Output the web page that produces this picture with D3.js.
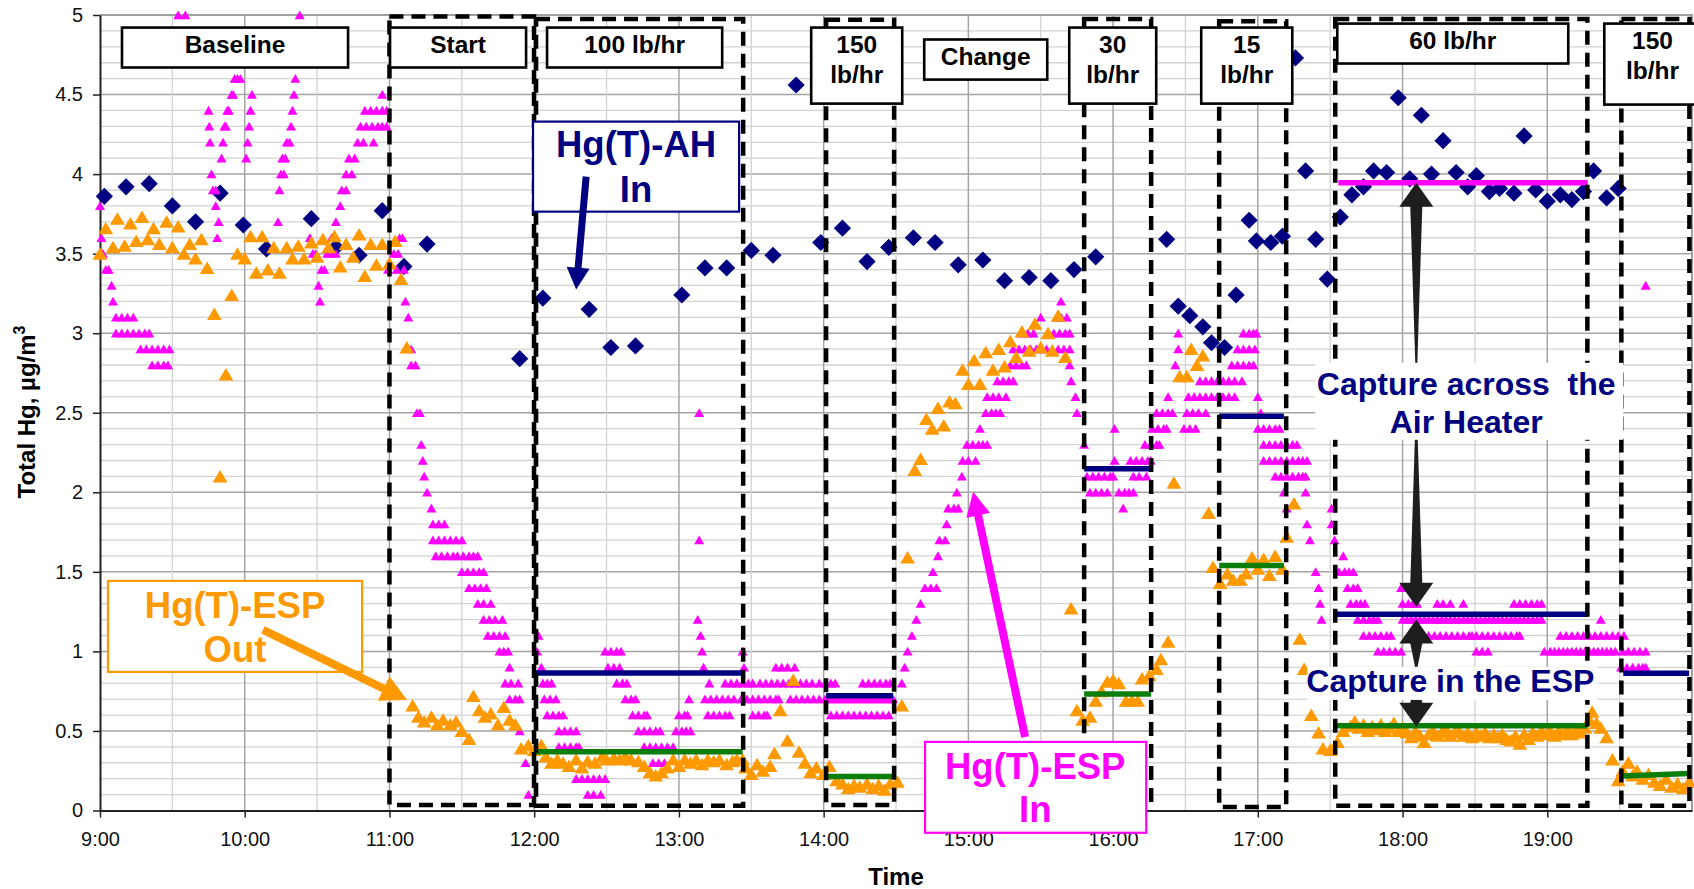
<!DOCTYPE html>
<html>
<head>
<meta charset="utf-8">
<script src="https://cdn.jsdelivr.net/npm/d3@7"></script>
<style>
  html, body { margin: 0; padding: 0; background: #ffffff; }
  svg { display: block; font-family: "Liberation Sans", Arial, Helvetica, sans-serif; }
</style>
</head>
<body>
<svg id="chart" width="1694" height="889"></svg>
<script>
// ---------------------------------------------------------------------------
// Data: time in decimal hours of the day, concentration in µg/m³
// ---------------------------------------------------------------------------

// Hg(T) at the air-heater inlet
const ahIn = [
  [9.03,3.86],[9.18,3.92],[9.34,3.94],[9.50,3.80],[9.66,3.70],[9.83,3.88],[9.99,3.68],[10.15,3.53],
  [10.46,3.72],[10.63,3.54],[10.79,3.49],[10.95,3.77],[11.10,3.42],[11.26,3.56],[11.90,2.84],[12.06,3.22],
  [12.38,3.15],[12.53,2.91],[12.70,2.92],[13.02,3.24],[13.18,3.41],[13.33,3.41],[13.50,3.52],[13.65,3.49],
  [13.81,4.56],[13.98,3.57],[14.13,3.66],[14.30,3.45],[14.45,3.54],[14.62,3.60],[14.77,3.57],[14.93,3.43],
  [15.10,3.46],[15.25,3.33],[15.42,3.35],[15.57,3.33],[15.73,3.40],[15.88,3.48],[16.37,3.59],[16.45,3.17],
  [16.53,3.11],[16.62,3.04],[16.68,2.94],[16.77,2.91],[16.85,3.24],[16.94,3.71],[16.99,3.58],[17.09,3.57],
  [17.17,3.61],[17.26,4.73],[17.33,4.02],[17.40,3.59],[17.48,3.34],[17.57,3.73],[17.65,3.87],[17.73,3.92],
  [17.80,4.02],[17.89,4.01],[17.97,4.48],[18.05,3.97],[18.13,4.37],[18.20,4.00],[18.28,4.21],[18.37,4.01],
  [18.45,3.92],[18.51,3.99],[18.60,3.89],[18.67,3.91],[18.77,3.88],[18.84,4.24],[18.92,3.90],[19.00,3.83],
  [19.09,3.87],[19.17,3.84],[19.25,3.89],[19.32,4.02],[19.41,3.85],[19.49,3.91]
];

// Hg(T) at the ESP inlet (analyser resolution 0.1 µg/m³)
const espIn = [
  [9.00,3.8],[9.01,3.6],[9.02,3.5],[9.04,3.4],[9.06,3.4],[9.08,3.3],[9.09,3.2],
  [9.11,3.1],[9.15,3.1],[9.19,3.1],[9.23,3.1],
  [9.11,3.0],[9.15,3.0],[9.19,3.0],[9.23,3.0],[9.27,3.0],[9.31,3.0],[9.34,3.0],
  [9.28,2.9],[9.32,2.9],[9.36,2.9],[9.40,2.9],[9.44,2.9],[9.48,2.9],
  [9.36,2.8],[9.40,2.8],[9.44,2.8],[9.47,2.8],
  [9.54,5.0],[9.59,5.0],
  [9.75,4.4],[9.755,4.3],[9.76,4.2],[9.77,4.0],[9.78,3.9],[9.80,3.9],[9.80,3.8],[9.81,3.6],[9.82,3.7],
  [9.84,4.1],[9.85,4.2],[9.86,4.3],[9.87,4.3],[9.88,4.4],[9.89,4.4],[9.91,4.5],[9.92,4.5],
  [9.93,4.6],[9.95,4.6],[9.97,4.6],
  [10.01,4.1],[10.02,4.2],[10.03,4.3],[10.04,4.4],[10.05,4.5],
  [10.23,3.7],[10.24,3.9],[10.25,4.0],[10.27,4.0],[10.26,4.1],[10.28,4.1],[10.29,4.2],[10.31,4.2],
  [10.32,4.3],[10.33,4.4],[10.34,4.5],[10.35,4.6],[10.38,5.0],
  [10.45,3.6],[10.47,3.5],[10.49,3.5],[10.51,3.3],[10.52,3.2],[10.53,3.4],[10.55,3.4],[10.57,3.5],
  [10.59,3.5],[10.60,3.6],[10.62,3.6],[10.63,3.5],
  [10.63,3.7],[10.66,3.8],[10.67,3.9],[10.70,3.9],[10.70,4.0],[10.74,4.0],[10.72,4.1],[10.76,4.1],
  [10.78,4.2],[10.82,4.2],[10.89,4.2],
  [10.80,4.3],[10.84,4.3],[10.88,4.3],[10.92,4.3],[10.95,4.3],[10.98,4.3],
  [10.83,4.4],[10.87,4.4],[10.91,4.4],[10.95,4.4],[10.98,4.4],[10.95,4.5],
  [10.99,3.4],[11.03,3.5],[11.05,3.4],[11.06,3.5],[11.07,3.6],[11.09,3.6],[11.10,3.4],[11.11,3.2],
  [11.13,3.1],[11.15,2.9],[11.15,2.8],[11.18,2.8],[11.19,2.5],[11.21,2.5],
  [11.22,2.3],[11.23,2.2],[11.24,2.1],[11.26,2.0],[11.29,1.9],
  [11.30,1.8],[11.34,1.8],[11.38,1.8],
  [11.30,1.7],[11.34,1.7],[11.38,1.7],[11.42,1.7],[11.46,1.7],[11.50,1.7],
  [11.32,1.6],[11.36,1.6],[11.40,1.6],[11.44,1.6],[11.47,1.6],[11.51,1.6],[11.55,1.6],[11.58,1.6],[11.61,1.6],
  [11.50,1.5],[11.54,1.5],[11.58,1.5],[11.62,1.5],[11.65,1.5],
  [11.55,1.4],[11.59,1.4],[11.63,1.4],[11.67,1.4],
  [11.61,1.3],[11.65,1.3],[11.70,1.3],
  [11.65,1.2],[11.69,1.2],[11.73,1.2],[11.78,1.2],
  [11.68,1.1],[11.72,1.1],[11.76,1.1],[11.80,1.1],
  [11.76,1.0],[11.79,1.0],[11.82,1.0],[11.83,0.9],
  [11.80,0.8],[11.84,0.8],[11.89,0.8],[11.83,0.7],[11.87,0.7],[11.90,0.7],
  [11.90,0.5],[11.94,0.3],[11.96,0.1],
  [12.02,1.0],[12.03,1.1],[12.05,0.9],
  [12.06,0.8],[12.09,0.8],[12.12,0.8],[12.07,0.7],[12.11,0.7],[12.15,0.7],
  [12.09,0.6],[12.13,0.6],[12.17,0.6],[12.20,0.6],
  [12.17,0.5],[12.21,0.5],[12.25,0.5],[12.29,0.5],
  [12.17,0.4],[12.21,0.4],[12.25,0.4],[12.29,0.4],[12.31,0.4],
  [12.29,0.2],[12.33,0.2],[12.37,0.2],[12.41,0.2],[12.45,0.2],[12.49,0.2],
  [12.37,0.1],[12.41,0.1],[12.46,0.1],
  [12.49,1.0],[12.53,1.0],[12.57,1.0],[12.60,1.0],[12.51,0.9],[12.55,0.9],[12.59,0.9],
  [12.57,0.8],[12.61,0.8],[12.64,0.8],[12.63,0.7],[12.67,0.7],[12.70,0.7],
  [12.68,0.6],[12.72,0.6],[12.76,0.6],[12.78,0.6],
  [12.72,0.5],[12.76,0.5],[12.80,0.5],[12.84,0.5],[12.87,0.5],
  [12.76,0.4],[12.80,0.4],[12.84,0.4],[12.88,0.4],[12.92,0.4],[12.96,0.4],
  [12.82,0.3],[12.86,0.3],[12.90,0.3],
  [12.98,0.5],[13.02,0.5],[13.05,0.5],[13.08,0.5],[13.00,0.6],[13.04,0.6],[13.06,0.6],[13.07,0.7],
  [13.14,2.5],[13.14,1.7],
  [13.13,1.2],[13.15,1.1],[13.16,1.0],[13.17,0.9],[13.21,0.8],
  [13.18,0.7],[13.22,0.7],[13.26,0.7],[13.30,0.7],[13.34,0.7],[13.38,0.7],[13.43,0.7],
  [13.20,0.6],[13.24,0.6],[13.28,0.6],[13.32,0.6],[13.35,0.6],
  [13.32,0.8],[13.36,0.8],[13.40,0.8],[13.44,0.8],[13.48,0.8],[13.51,0.8],
  [13.44,1.0],[13.45,0.9],
  [13.47,0.7],[13.51,0.7],[13.55,0.7],[13.59,0.7],[13.63,0.7],[13.67,0.7],[13.69,0.7],
  [13.51,0.6],[13.55,0.6],[13.59,0.6],[13.61,0.6],
  [13.56,0.8],[13.60,0.8],[13.64,0.8],[13.68,0.8],[13.72,0.8],[13.76,0.8],[13.80,0.8],[13.84,0.8],
  [13.88,0.8],[13.92,0.8],[13.97,0.8],
  [13.67,0.9],[13.71,0.9],[13.75,0.9],[13.80,0.9],
  [13.77,0.7],[13.81,0.7],[13.85,0.7],[13.89,0.7],[13.93,0.7],[13.97,0.7],
  [14.01,0.8],[14.05,0.8],[14.08,0.8],
  [14.05,0.6],[14.09,0.6],[14.13,0.6],[14.17,0.6],[14.21,0.6],[14.25,0.6],[14.29,0.6],[14.33,0.6],
  [14.37,0.6],[14.41,0.6],[14.45,0.6],
  [14.01,0.7],[14.04,0.7],[14.07,0.7],[14.10,0.7],[14.13,0.7],[14.16,0.7],[14.19,0.7],[14.22,0.7],
  [14.25,0.7],[14.28,0.7],[14.31,0.7],[14.34,0.7],[14.37,0.7],[14.40,0.7],[14.43,0.7],[14.46,0.7],[14.48,0.7],
  [14.27,0.8],[14.31,0.8],[14.35,0.8],[14.39,0.8],[14.43,0.8],[14.46,0.8],
  [14.54,0.8],[14.56,0.9],[14.58,1.0],[14.61,1.1],[14.64,1.2],[14.67,1.3],
  [14.70,1.4],[14.74,1.4],[14.78,1.4],[14.755,1.5],[14.79,1.6],[14.80,1.7],[14.84,1.7],[14.85,1.8],
  [14.86,1.9],[14.90,1.9],[14.93,1.9],[14.92,2.0],[14.955,2.1],
  [14.96,2.2],[15.00,2.2],[15.05,2.2],
  [14.99,2.3],[15.03,2.3],[15.07,2.3],[15.10,2.3],[15.13,2.3],[15.08,2.4],
  [15.12,2.5],[15.16,2.5],[15.19,2.5],[15.22,2.5],
  [15.13,2.6],[15.17,2.6],[15.21,2.6],[15.26,2.6],
  [15.20,2.7],[15.24,2.7],[15.28,2.7],[15.31,2.7],
  [15.29,2.8],[15.33,2.8],[15.37,2.8],[15.40,2.8],
  [15.31,2.9],[15.35,2.9],[15.39,2.9],[15.43,2.9],[15.47,2.9],[15.50,2.9],
  [15.37,3.0],[15.41,3.0],[15.45,3.0],[15.50,3.1],
  [15.59,3.0],[15.63,3.0],[15.67,3.0],[15.70,3.0],[15.61,3.1],[15.64,3.1],[15.68,3.1],[15.64,3.2],
  [15.54,2.9],[15.58,2.9],[15.62,2.9],[15.66,2.9],[15.70,2.9],
  [15.70,2.8],[15.71,2.7],[15.74,2.6],[15.75,2.5],
  [15.80,2.3],
  [15.82,2.1],[15.86,2.1],[15.90,2.1],[15.94,2.1],[15.98,2.1],[16.00,2.1],
  [15.84,2.0],[15.88,2.0],[15.92,2.0],[15.96,2.0],
  [16.01,2.4],[16.01,2.2],[16.04,2.0],[16.08,2.0],[16.11,2.0],[16.14,2.0],[16.07,1.9],
  [16.12,2.2],[16.16,2.2],[16.20,2.2],[16.24,2.2],[16.26,2.2],
  [16.14,2.1],[16.18,2.1],[16.23,2.1],
  [16.22,2.3],[16.26,2.3],[16.30,2.3],[16.32,2.3],
  [16.27,2.4],[16.31,2.4],[16.35,2.4],[16.37,2.4],
  [16.30,2.5],[16.34,2.5],[16.38,2.5],[16.41,2.5],
  [16.38,2.6],[16.43,2.8],[16.45,2.9],[16.45,3.0],
  [16.49,2.4],[16.53,2.4],[16.57,2.4],
  [16.51,2.5],[16.55,2.5],[16.59,2.5],[16.64,2.5],
  [16.52,2.6],[16.56,2.6],[16.60,2.6],[16.64,2.6],[16.68,2.6],[16.72,2.6],[16.76,2.6],[16.80,2.6],[16.84,2.6],
  [16.60,2.7],[16.64,2.7],[16.68,2.7],[16.72,2.7],[16.76,2.7],[16.80,2.7],[16.84,2.7],[16.89,2.7],
  [16.82,2.8],[16.86,2.8],[16.90,2.8],[16.94,2.8],[16.97,2.8],
  [16.86,2.9],[16.90,2.9],[16.94,2.9],[16.98,2.9],
  [16.90,3.0],[16.94,3.0],[16.97,3.0],[16.99,3.0],
  [17.00,2.6],[17.02,2.5],
  [17.00,2.4],[17.04,2.4],[17.08,2.4],[17.12,2.4],[17.15,2.4],
  [17.04,2.3],[17.08,2.3],[17.12,2.3],[17.16,2.3],[17.20,2.3],[17.24,2.3],[17.27,2.3],
  [17.04,2.2],[17.08,2.2],[17.12,2.2],[17.16,2.2],[17.20,2.2],[17.24,2.2],[17.28,2.2],[17.31,2.2],[17.34,2.2],
  [17.12,2.1],[17.16,2.1],[17.20,2.1],[17.24,2.1],[17.28,2.1],[17.31,2.1],[17.33,2.1],
  [17.18,2.0],[17.33,2.0],[17.20,1.9],[17.51,1.9],[17.34,1.8],[17.51,1.8],[17.36,1.7],[17.53,1.7],[17.59,1.6],
  [17.40,1.5],[17.56,1.5],[17.60,1.5],[17.63,1.5],[17.66,1.5],
  [17.42,1.4],[17.62,1.4],[17.66,1.4],[17.69,1.4],
  [17.43,1.3],[17.64,1.3],[17.68,1.3],[17.71,1.3],[17.74,1.3],
  [17.44,1.2],[17.69,1.2],[17.73,1.2],[17.77,1.2],[17.80,1.2],[17.83,1.2],
  [17.73,1.1],[17.77,1.1],[17.81,1.1],[17.85,1.1],[17.89,1.1],[17.92,1.1],
  [17.83,1.0],[17.87,1.0],[17.91,1.0],[17.95,1.0],[17.99,1.0],
  [17.99,1.4],[18.00,1.3],[18.04,1.3],[18.07,1.3],[18.10,1.3],
  [18.00,1.2],[18.03,1.2],[18.06,1.2],[18.09,1.2],[18.12,1.2],[18.15,1.2],[18.18,1.2],[18.21,1.2],
  [18.24,1.2],[18.27,1.2],[18.30,1.2],[18.33,1.2],[18.36,1.2],[18.39,1.2],[18.42,1.2],[18.45,1.2],
  [18.48,1.2],[18.51,1.2],[18.54,1.2],[18.57,1.2],[18.60,1.2],[18.63,1.2],[18.66,1.2],[18.69,1.2],
  [18.72,1.2],[18.75,1.2],[18.78,1.2],[18.81,1.2],[18.84,1.2],[18.87,1.2],[18.90,1.2],[18.93,1.2],[18.96,1.2],
  [18.14,1.1],[18.18,1.1],[18.22,1.1],[18.26,1.1],[18.30,1.1],[18.34,1.1],[18.38,1.1],[18.42,1.1],[18.46,1.1],[18.48,1.1],
  [18.24,1.3],[18.28,1.3],[18.33,1.3],[18.42,1.3],
  [18.51,1.1],[18.55,1.1],[18.59,1.1],[18.63,1.1],[18.67,1.1],[18.71,1.1],[18.75,1.1],[18.79,1.1],[18.81,1.1],
  [18.51,1.0],[18.55,1.0],[18.59,1.0],
  [18.77,1.3],[18.81,1.3],[18.85,1.3],[18.89,1.3],[18.93,1.3],[18.96,1.3],
  [18.98,1.0],[19.02,1.0],[19.05,1.0],[19.08,1.0],[19.11,1.0],[19.14,1.0],[19.17,1.0],[19.20,1.0],
  [19.23,1.0],[19.26,1.0],[19.29,1.0],[19.32,1.0],[19.35,1.0],[19.38,1.0],[19.41,1.0],[19.44,1.0],[19.47,1.0],
  [19.09,1.1],[19.13,1.1],[19.17,1.1],[19.21,1.1],[19.25,1.1],[19.29,1.1],[19.33,1.1],[19.37,1.1],
  [19.41,1.1],[19.45,1.1],[19.49,1.1],[19.53,1.1],
  [19.37,1.2],
  [19.52,1.0],[19.56,1.0],[19.60,1.0],[19.64,1.0],[19.68,1.0],
  [19.51,0.9],[19.55,0.9],[19.59,0.9],[19.63,0.9],[19.66,0.9],[19.68,0.9],
  [19.68,3.3]
];

// Hg(T) at the ESP outlet
const espOut = [
  [9.00,3.50],[9.04,3.66],[9.09,3.54],[9.12,3.72],[9.17,3.55],[9.21,3.69],[9.25,3.58],[9.29,3.73],
  [9.33,3.59],[9.37,3.66],[9.41,3.56],[9.46,3.70],[9.50,3.54],[9.54,3.67],[9.58,3.50],[9.62,3.56],
  [9.66,3.47],[9.70,3.59],[9.74,3.41],[9.79,3.12],[9.83,2.10],[9.87,2.74],[9.91,3.24],[9.95,3.50],
  [10.00,3.47],[10.04,3.61],[10.08,3.38],[10.12,3.61],[10.16,3.40],[10.20,3.54],[10.24,3.38],[10.29,3.54],
  [10.33,3.47],[10.37,3.55],[10.41,3.47],[10.46,3.57],[10.50,3.48],[10.54,3.59],[10.58,3.54],[10.62,3.61],
  [10.66,3.42],[10.70,3.56],[10.75,3.48],[10.79,3.62],[10.83,3.36],[10.87,3.56],[10.91,3.43],[10.95,3.56],
  [11.00,3.44],[11.04,3.58],[11.08,3.34],[11.12,2.91],
  [11.16,0.66],[11.20,0.59],[11.24,0.56],[11.29,0.59],[11.33,0.54],[11.37,0.57],[11.42,0.54],[11.46,0.56],
  [11.50,0.50],[11.55,0.45],[11.58,0.72],[11.62,0.63],[11.66,0.59],[11.70,0.61],[11.75,0.54],[11.79,0.65],
  [11.83,0.57],[11.87,0.54],[11.91,0.39],[11.96,0.41],[12.00,0.38],[12.05,0.41],
  [12.08,0.34],[12.12,0.30],[12.16,0.32],[12.20,0.30],[12.24,0.28],[12.29,0.32],[12.33,0.27],[12.37,0.31],
  [12.42,0.30],[12.47,0.34],[12.50,0.32],[12.55,0.33],[12.59,0.32],[12.63,0.34],[12.67,0.32],[12.72,0.31],
  [12.76,0.28],[12.80,0.24],[12.84,0.22],[12.88,0.24],[12.92,0.27],[12.96,0.32],[13.00,0.28],[13.04,0.32],
  [13.08,0.30],[13.12,0.32],[13.16,0.29],[13.20,0.32],[13.24,0.31],[13.28,0.32],[13.33,0.29],[13.37,0.31],
  [13.40,0.32],[13.44,0.32],[13.46,0.27],[13.50,0.23],[13.54,0.29],[13.58,0.25],[13.63,0.28],[13.66,0.36],
  [13.70,0.63],[13.75,0.44],[13.79,0.82],[13.83,0.37],[13.87,0.30],[13.91,0.24],[13.95,0.27],[14.00,0.23],
  [14.04,0.28],[14.09,0.19],[14.13,0.17],[14.17,0.14],[14.21,0.16],[14.25,0.15],[14.30,0.17],[14.34,0.14],
  [14.38,0.16],[14.42,0.13],[14.46,0.17],[14.51,0.18],[14.54,0.66],
  [14.58,1.59],[14.63,2.14],[14.67,2.21],[14.71,2.46],[14.75,2.40],[14.79,2.53],[14.83,2.42],[14.87,2.57],
  [14.91,2.56],[14.96,2.77],[15.00,2.68],[15.04,2.83],[15.08,2.68],[15.12,2.88],[15.17,2.77],[15.21,2.90],
  [15.25,2.79],[15.29,2.95],[15.33,2.85],[15.37,3.01],[15.42,2.89],[15.46,3.06],[15.50,2.91],[15.55,3.00],
  [15.58,2.89],[15.62,3.11],[15.67,2.85],
  [15.71,1.27],[15.75,0.63],[15.79,0.57],[15.84,0.59],[15.88,0.69],[15.92,0.75],[15.96,0.81],[16.00,0.82],
  [16.04,0.80],[16.09,0.69],[16.13,0.69],[16.17,0.69],[16.20,0.83],[16.25,0.85],[16.30,0.89],[16.33,0.95],
  [16.38,1.06],[16.42,2.06],[16.46,2.73],[16.51,2.73],[16.54,2.90],[16.58,2.80],[16.62,2.86],[16.66,1.87],
  [16.69,1.53],[16.74,1.43],[16.79,1.49],[16.83,1.45],[16.88,1.45],[16.92,1.49],[16.96,1.59],[17.00,1.52],
  [17.04,1.58],[17.08,1.48],[17.12,1.60],[17.17,1.52],[17.20,1.72],[17.25,1.93],[17.29,1.08],[17.32,0.89],
  [17.37,0.60],[17.42,0.49],[17.45,0.39],[17.50,0.38],[17.55,0.43],[17.59,0.50],
  [17.64,0.53],[17.67,0.56],[17.70,0.52],[17.73,0.54],[17.76,0.50],[17.79,0.53],[17.82,0.51],[17.85,0.54],
  [17.88,0.50],[17.91,0.52],[17.94,0.55],[17.97,0.50],[18.00,0.52],[18.03,0.49],[18.06,0.46],[18.09,0.50],
  [18.12,0.47],[18.15,0.43],[18.18,0.48],[18.21,0.50],[18.24,0.47],[18.27,0.49],[18.30,0.51],[18.33,0.47],
  [18.36,0.49],[18.39,0.50],[18.42,0.47],[18.45,0.49],[18.48,0.46],[18.51,0.49],[18.54,0.47],[18.57,0.49],
  [18.60,0.46],[18.63,0.48],[18.66,0.46],[18.69,0.48],[18.72,0.45],[18.75,0.44],[18.78,0.47],[18.81,0.42],
  [18.84,0.48],[18.87,0.45],[18.90,0.49],[18.93,0.47],[18.96,0.50],[18.99,0.48],[19.02,0.50],[19.05,0.47],
  [19.08,0.50],[19.11,0.48],[19.14,0.51],[19.17,0.48],[19.20,0.51],[19.23,0.49],[19.26,0.52],[19.29,0.57],
  [19.31,0.62],[19.34,0.55],[19.37,0.52],[19.41,0.46],[19.45,0.32],[19.49,0.19],[19.52,0.25],[19.56,0.30],
  [19.59,0.22],[19.62,0.25],[19.66,0.20],[19.70,0.23],[19.74,0.18],[19.78,0.16],[19.82,0.20],[19.86,0.15],
  [19.90,0.17],[19.94,0.14],[19.98,0.18]
];

// Test phases (sorbent injection rates) and their time spans
const phaseNames  = ["Start", "100 lb/hr", "150 lb/hr", "30 lb/hr", "15 lb/hr", "60 lb/hr", "150 lb/hr"];
const phaseStart  = [11.00, 12.013, 14.017, 15.80, 16.733, 17.535, 19.512];
const phaseEnd    = [11.999, 13.444, 14.487, 16.263, 17.196, 19.277, 19.982];

// Period averages: [start, end, value at start, value at end]
const avgAhIn  = [[17.556, 19.28, 3.945, 3.945]];
const avgEspIn = [[12.00, 13.44, 0.865, 0.865], [14.017, 14.48, 0.722, 0.722], [15.80, 16.263, 2.148, 2.148],
                  [16.733, 17.18, 2.478, 2.478], [17.542, 19.277, 1.234, 1.234], [19.525, 19.98, 0.863, 0.863]];
const avgEspOut = [[12.00, 13.44, 0.37, 0.37], [14.017, 14.48, 0.213, 0.213], [15.80, 16.263, 0.733, 0.733],
                   [16.733, 17.18, 1.54, 1.54], [17.542, 19.277, 0.533, 0.533], [19.525, 19.98, 0.217, 0.232]];

// Axis ticks
const hourTicks = [9, 10, 11, 12, 13, 14, 15, 16, 17, 18, 19];
const valueTicks = [0, 0.5, 1, 1.5, 2, 2.5, 3, 3.5, 4, 4.5, 5];

// ---------------------------------------------------------------------------
// Layout
// ---------------------------------------------------------------------------
const svg = d3.select("#chart");
const plot = { left: 100, right: 1692, top: 15, bottom: 810.5 };
const x = d3.scaleLinear().domain([9, 20]).range([plot.left, plot.right]);
const y = d3.scaleLinear().domain([0, 5]).range([plot.bottom, plot.top]);

const C = {
  navy: "#000080", pink: "#ff00ff", orange: "#ff9900", green: "#0b7d0b",
  gridMinor: "#d3d3d3", gridMajor: "#a4a4a4", dark: "#1e1e1e"
};
const FONT = '"Liberation Sans", Arial, Helvetica, sans-serif';

// ---- gridlines ----
const grid = svg.append("g");
d3.range(1, 50).forEach(i => {
  grid.append("line")
    .attr("x1", plot.left).attr("x2", plot.right)
    .attr("y1", y(i / 10)).attr("y2", y(i / 10))
    .attr("stroke", i % 5 === 0 ? C.gridMajor : C.gridMinor)
    .attr("stroke-width", i % 5 === 0 ? 1.5 : 1.3);
});
d3.range(1, 22).forEach(i => {
  grid.append("line")
    .attr("y1", plot.top).attr("y2", plot.bottom)
    .attr("x1", x(9 + i / 2)).attr("x2", x(9 + i / 2))
    .attr("stroke", i % 2 === 0 ? C.gridMajor : C.gridMinor)
    .attr("stroke-width", i % 2 === 0 ? 1.5 : 1.3);
});
// plot frame (top and right)
grid.append("path")
  .attr("d", `M${plot.left},${plot.top}H${plot.right}V${plot.bottom}`)
  .attr("fill", "none").attr("stroke", "#a0a0a0").attr("stroke-width", 2);

// ---- axes ----
const xAxis = svg.append("g")
  .attr("transform", `translate(0,${plot.bottom})`)
  .call(d3.axisBottom(x).tickValues(hourTicks).tickFormat(h => `${h}:00`)
        .tickSize(7).tickSizeOuter(0).tickPadding(14));
const yAxis = svg.append("g")
  .attr("transform", `translate(${plot.left},0)`)
  .call(d3.axisLeft(y).tickValues(valueTicks).tickFormat(d3.format("~g"))
        .tickSize(7).tickSizeOuter(0).tickPadding(10));
[xAxis, yAxis].forEach(g => {
  g.selectAll("text").attr("font-size", 20).attr("font-family", FONT).attr("fill", "#111");
  g.selectAll("line").attr("stroke", "#222").attr("stroke-width", 1.5);
  g.select(".domain").attr("stroke", "#222").attr("stroke-width", 2);
});

// axis titles
const yTitle = svg.append("text")
  .attr("transform", "translate(35,412) rotate(-90)")
  .attr("text-anchor", "middle")
  .attr("font-family", FONT).attr("font-weight", "bold").attr("font-size", 24).attr("fill", "#000");
yTitle.append("tspan").text("Total Hg, µg/m");
yTitle.append("tspan").attr("font-size", 16).attr("dy", -10).text("3");

svg.append("text")
  .attr("x", (plot.left + plot.right) / 2).attr("y", 885)
  .attr("text-anchor", "middle")
  .attr("font-family", FONT).attr("font-weight", "bold").attr("font-size", 24)
  .text("Time");

// ---- data markers ----
const diamond = "M0,-8.6L8.6,0L0,8.6L-8.6,0Z";
const bigTri = "M0,-6.5L7.4,6L-7.4,6Z";
const smallTri = "M0,-4.6L5,4.2L-5,4.2Z";

svg.append("g").selectAll("path").data(ahIn).join("path")
  .attr("d", diamond).attr("fill", C.navy)
  .attr("transform", d => `translate(${x(d[0])},${y(d[1])})`);

svg.append("g").selectAll("path").data(espIn).join("path")
  .attr("d", smallTri).attr("fill", C.pink)
  .attr("transform", d => `translate(${x(d[0])},${y(d[1])})`);

svg.append("g").selectAll("path").data(espOut).join("path")
  .attr("d", bigTri).attr("fill", C.orange)
  .attr("transform", d => `translate(${x(d[0])},${y(d[1])})`);

// ---- period averages ----
function avgLines(rows, color) {
  svg.append("g").selectAll("line").data(rows).join("line")
    .attr("x1", d => x(d[0])).attr("x2", d => x(d[1]))
    .attr("y1", d => y(d[2])).attr("y2", d => y(d[3]))
    .attr("stroke", color).attr("stroke-width", 5.5);
}
avgLines(avgEspOut, C.green);
avgLines(avgEspIn, C.navy);
avgLines(avgAhIn, C.pink);

// ---- dashed phase frames ----
const frameTop = [4.99, 4.975, 4.97, 4.975, 4.96, 4.975, 4.975];
const frameBottom = [0.035, 0.03, 0.035, 0.04, 0.022, 0.03, 0.03];
svg.append("g").selectAll("rect").data(phaseNames).join("rect")
  .attr("x", (d, i) => x(phaseStart[i]))
  .attr("y", (d, i) => y(frameTop[i]))
  .attr("width", (d, i) => x(phaseEnd[i]) - x(phaseStart[i]))
  .attr("height", (d, i) => y(frameBottom[i]) - y(frameTop[i]))
  .attr("fill", "none").attr("stroke", "#000").attr("stroke-width", 4.5)
  .attr("stroke-dasharray", "14,8");

// ---- phase labels ----
// [x0, x1, yTop, yBottom, lines]
const phaseLabels = [
  [9.152, 10.714, 4.921, 4.670, ["Baseline"]],
  [11.004, 11.944, 4.921, 4.670, ["Start"]],
  [12.089, 13.299, 4.921, 4.670, ["100 lb/hr"]],
  [13.914, 14.543, 4.921, 4.443, ["150", "lb/hr"]],
  [14.695, 15.545, 4.846, 4.594, ["Change"]],
  [15.697, 16.298, 4.921, 4.443, ["30", "lb/hr"]],
  [16.609, 17.238, 4.921, 4.443, ["15", "lb/hr"]],
  [17.549, 19.145, 4.946, 4.695, ["60 lb/hr"]],
  [19.394, 20.06, 4.946, 4.437, ["150", "lb/hr"]]
];
const labG = svg.append("g");
phaseLabels.forEach(([x0, x1, t, b, lines]) => {
  labG.append("rect")
    .attr("x", x(x0)).attr("y", y(t))
    .attr("width", x(x1) - x(x0)).attr("height", y(b) - y(t))
    .attr("fill", "#fff").attr("stroke", "#000").attr("stroke-width", 2.6);
  lines.forEach((s, k) => {
    labG.append("text")
      .attr("x", (x(x0) + x(x1)) / 2).attr("y", y(t) + 25 + k * 30)
      .attr("text-anchor", "middle")
      .attr("font-family", FONT).attr("font-weight", "bold").attr("font-size", 24.5)
      .text(s);
  });
});

// ---- callouts ----
function arrowPoints(x1, y1, x2, y2, sw, hw, hl, both) {
  const dx = x2 - x1, dy = y2 - y1, L = Math.hypot(dx, dy);
  const ux = dx / L, uy = dy / L, px = -uy, py = ux;
  const pts = [];
  const tipEnd = (tx, ty, sx, sy) => {
    const bx = tx - sx * hl, by = ty - sy * hl;
    return [[bx + px * sw / 2, by + py * sw / 2], [bx + px * hw / 2, by + py * hw / 2], [tx, ty],
            [bx - px * hw / 2, by - py * hw / 2], [bx - px * sw / 2, by - py * sw / 2]];
  };
  const head = tipEnd(x2, y2, ux, uy);
  if (both) {
    const tail = tipEnd(x1, y1, -ux, -uy);
    pts.push(...head, ...tail);
  } else {
    pts.push([x1 - px * sw / 2, y1 - py * sw / 2], [x1 + px * sw / 2, y1 + py * sw / 2], ...head);
  }
  return pts;
}
function drawArrow(p, color) {
  svg.append("polygon").attr("points", p.map(q => q.join(",")).join(" ")).attr("fill", color);
}

// series callout boxes
const callouts = [
  { x0: 11.992, x1: 13.416, t: 4.330, b: 3.764, cx: 12.704, lines: ["Hg(T)-AH", "In"], base: [4.110, 3.827], color: C.navy },
  { x0: 9.055, x1: 10.811, t: 1.443, b: 0.871, cx: 9.933, lines: ["Hg(T)-ESP", "Out"], base: [1.211, 0.934], color: C.orange },
  { x0: 14.701, x1: 16.229, t: 0.431, b: -0.140, cx: 15.462, lines: ["Hg(T)-ESP", "In"], base: [0.198, -0.072], color: C.pink }
];
callouts.forEach(c => {
  svg.append("rect")
    .attr("x", x(c.x0)).attr("y", y(c.t))
    .attr("width", x(c.x1) - x(c.x0)).attr("height", y(c.b) - y(c.t))
    .attr("fill", "#fff").attr("stroke", c.color).attr("stroke-width", 2.2);
  c.lines.forEach((s, k) => {
    svg.append("text")
      .attr("x", x(c.cx)).attr("y", y(c.base[k]))
      .attr("text-anchor", "middle")
      .attr("font-family", FONT).attr("font-weight", "bold").attr("font-size", 36.5)
      .attr("fill", c.color).text(s);
  });
});

// pointer arrows
drawArrow(arrowPoints(x(12.359), y(3.984), x(12.290), y(3.274), 7, 23, 22, false), C.navy);
drawArrow(arrowPoints(x(10.126), y(1.135), x(11.122), y(0.695), 8, 27, 26, false), C.orange);
drawArrow(arrowPoints(x(15.392), y(0.462), x(15.033), y(2.003), 8, 24, 24, false), C.pink);

// capture arrows between averages (60 lb/hr period)
const capX = 18.095;
drawArrow(arrowPoints(x(capX), y(1.28), x(capX), y(3.945), 12, 34, 24, true), C.dark);
drawArrow(arrowPoints(x(capX), y(0.527), x(capX), y(1.20), 12, 34, 24, true), C.dark);

const captures = [
  { x0: 17.397, x1: 19.525, t: 2.814, b: 2.330, cx: 18.44, lines: ["Capture across  the", "Air Heater"], base: [2.610, 2.374] },
  { x0: 17.342, x1: 19.346, t: 0.903, b: 0.695, cx: 18.33, lines: ["Capture in the ESP"], base: [0.745] }
];
captures.forEach(c => {
  svg.append("rect")
    .attr("x", x(c.x0)).attr("y", y(c.t))
    .attr("width", x(c.x1) - x(c.x0)).attr("height", y(c.b) - y(c.t))
    .attr("fill", "#fff");
  c.lines.forEach((s, k) => {
    svg.append("text")
      .attr("x", x(c.cx)).attr("y", y(c.base[k]))
      .attr("text-anchor", "middle")
      .attr("font-family", FONT).attr("font-weight", "bold").attr("font-size", 32)
      .attr("fill", C.navy).style("white-space", "pre")
      .text(s);
  });
});
</script>
</body>
</html>
